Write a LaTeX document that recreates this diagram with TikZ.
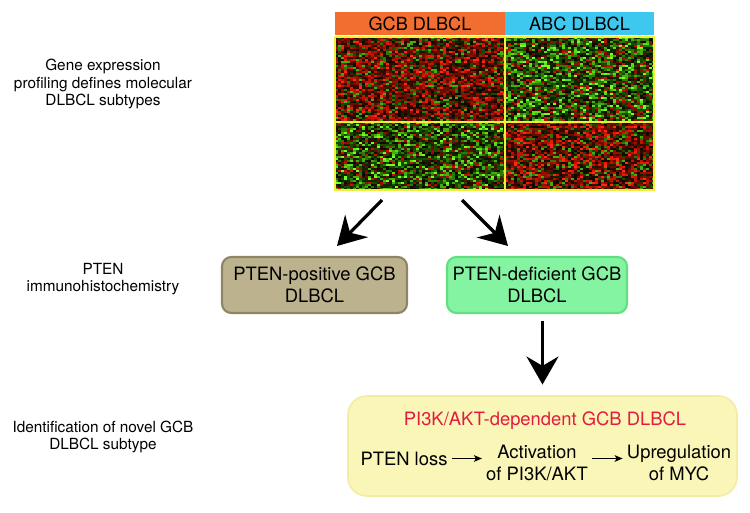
\documentclass[tikz,border=0pt]{standalone}
\usepackage{fontspec}
\setmainfont{TeX Gyre Heros}
\usetikzlibrary{arrows.meta, positioning}

\definecolor{gcborange}{RGB}{241,110,48}
\definecolor{abcblue}{RGB}{62,200,240}
\definecolor{heatline}{RGB}{242,238,60}
\definecolor{posfill}{RGB}{188,178,142}
\definecolor{posedge}{RGB}{142,133,100}
\definecolor{deffill}{RGB}{132,243,162}
\definecolor{defedge}{RGB}{98,224,128}
\definecolor{subfill}{RGB}{250,246,184}
\definecolor{subedge}{RGB}{242,236,165}
\definecolor{subtitle}{RGB}{226,28,62}
% heatmap palette: green - black - red
\definecolor{hm0}{rgb}{0.45,1.00,0.15}
\definecolor{hm1}{rgb}{0.36,0.86,0.10}
\definecolor{hm2}{rgb}{0.26,0.68,0.05}
\definecolor{hm3}{rgb}{0.17,0.48,0.02}
\definecolor{hm4}{rgb}{0.09,0.30,0.00}
\definecolor{hm5}{rgb}{0.05,0.15,0.00}
\definecolor{hm6}{rgb}{0.04,0.04,0.00}
\definecolor{hm7}{rgb}{0.20,0.03,0.00}
\definecolor{hm8}{rgb}{0.40,0.05,0.00}
\definecolor{hm9}{rgb}{0.58,0.06,0.00}
\definecolor{hm10}{rgb}{0.75,0.08,0.00}
\definecolor{hm11}{rgb}{0.90,0.10,0.04}
\definecolor{hm12}{rgb}{1.00,0.15,0.08}
\pgfmathdeclarerandomlist{redq}{{6}{6}{7}{7}{7}{8}{8}{8}{9}{9}{10}{10}{11}{12}{5}{4}{3}{2}}
\pgfmathdeclarerandomlist{greenq}{{6}{6}{5}{5}{5}{4}{4}{4}{3}{3}{2}{2}{1}{0}{7}{8}{9}{10}}

% one block of the expression heatmap
\newcommand{\heatquad}[5]{%
  \begin{scope}
    \clip (#1,#2) rectangle ++(#3,#4);
    \pgfmathtruncatemacro{\ncol}{#3/3}
    \pgfmathtruncatemacro{\nrow}{#4/2}
    \foreach \c in {0,...,\ncol}{
      \foreach \r in {0,...,\nrow}{
        \pgfmathrandomitem{\k}{#5}
        \fill[fill=hm\k] (#1+3*\c,#2+2*\r) rectangle ++(3,2);
      }
    }
  \end{scope}}

\tikzset{
  headbox/.style={inner sep=0pt, minimum height=23*0.75pt,
    font=\fontsize{13.6}{16}\selectfont},
  sidelabel/.style={align=center, font=\fontsize{11.5}{13.1}\selectfont},
  gcbbox/.style={align=center, inner sep=0pt, minimum height=56*0.75pt,
    rounded corners=7pt, line width=1.6pt, font=\fontsize{13.8}{16.3}\selectfont},
  pathtext/.style={align=center, inner sep=3pt, font=\fontsize{13.8}{16.3}\selectfont},
  bigarrow/.style={line width=2.4pt, -{Stealth[length=21pt, width=24pt, inset=7pt]}},
  smallarrow/.style={line width=1pt, -{Stealth[length=6pt, width=5pt, inset=1.5pt]}}
}

\begin{document}
\begin{tikzpicture}[x=0.75pt, y=-0.75pt]
\useasboundingbox (0,0) rectangle (750,513);
\pgfmathsetseed{17}

% Column headers
\node[headbox, fill=gcborange, minimum width=170*0.75pt] (gcbhead) at (420,23.5) {GCB DLBCL};
\node[headbox, fill=abcblue, minimum width=149*0.75pt] (abchead) at (579.5,23.5) {ABC DLBCL};

% Heatmap
\heatquad{335}{37}{170}{85}{redq}
\heatquad{505}{37}{149}{85}{greenq}
\heatquad{335}{122}{170}{68}{greenq}
\heatquad{505}{122}{149}{68}{redq}
\node[draw=heatline, line width=1pt, inner sep=0pt,
  minimum width=319*0.75pt, minimum height=153*0.75pt] (heat) at (494.5,113.5) {};
\draw[heatline, line width=1pt] (heat.west |- 0,122) -- (heat.east |- 0,122);
\draw[heatline, line width=1pt] (505,0 |- heat.north) -- (505,0 |- heat.south);

% Left column
\node[sidelabel] (lblgep) at (103,84) {Gene expression\\profiling defines molecular\\DLBCL subtypes};
\node[sidelabel] (lblihc) at (103,279) {PTEN\\immunohistochemistry};
\node[sidelabel] (lblnovel) at (103,437) {Identification of novel GCB\\DLBCL subtype};

% PTEN status boxes
\node[gcbbox, draw=posedge, fill=posfill, minimum width=185*0.75pt] (pos) at (314.5,285)
  {PTEN-positive GCB\\DLBCL};
\node[gcbbox, draw=defedge, fill=deffill, minimum width=180*0.75pt] (def) at (537,285)
  {PTEN-deficient GCB\\DLBCL};

% Split arrows
\coordinate (splitL) at (382,200);
\coordinate (tipL) at (337,246);
\coordinate (splitR) at (462,200);
\coordinate (tipR) at (508,246);
\draw[bigarrow] (splitL) -- (tipL);
\draw[bigarrow] (splitR) -- (tipR);

% New subtype
\node[gcbbox, draw=subedge, fill=subfill, rounded corners=14pt, line width=1.2pt,
  minimum width=389*0.75pt, minimum height=100*0.75pt] (sub) at (542.5,446) {};
\draw[bigarrow, shorten <=5pt, shorten >=8pt] (def.south -| sub.north) -- (sub.north);

\node[pathtext, text=subtitle, anchor=base] (subname) at (545,425) {PI3K/AKT-dependent GCB DLBCL};
\node[pathtext] (loss) at (404,458.5) {PTEN loss};
\node[pathtext] (act) at (537,463) {Activation\\of PI3K/AKT};
\node[pathtext] (myc) at (679,463) {Upregulation\\of MYC};
\draw[smallarrow] (loss.east) -- (loss.east -| act.west);
\draw[smallarrow] (act.east |- loss.east) -- (loss.east -| myc.west);
\end{tikzpicture}
\end{document}
